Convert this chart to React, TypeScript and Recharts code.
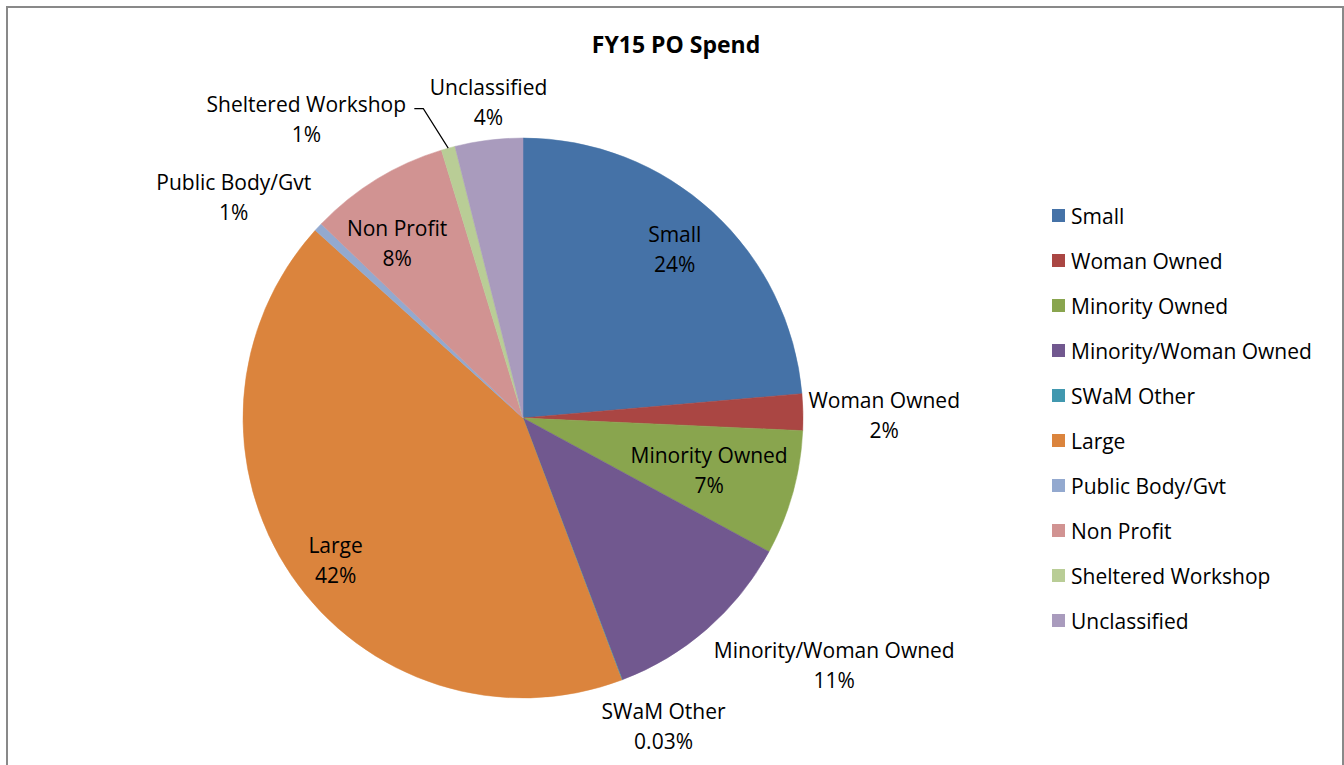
import { PieChart, Pie, Cell, Legend } from 'recharts';

// FY15 PO spend by vendor class (share of total, %)
const categories = [
  'Small',
  'Woman Owned',
  'Minority Owned',
  'Minority/Woman Owned',
  'SWaM Other',
  'Large',
  'Public Body/Gvt',
  'Non Profit',
  'Sheltered Workshop',
  'Unclassified',
];
const spendShare = [23.6, 2.1, 7.2, 11.3, 0.03, 42.4, 0.5, 8.1, 0.8, 3.9];
const sliceColors = [
  '#4572A7',
  '#AA4643',
  '#89A54E',
  '#71588F',
  '#4198AF',
  '#DB843D',
  '#93A9CF',
  '#D19392',
  '#B9CD96',
  '#A99BBD',
];

// where each data label sits: fraction of the radius and angle nudge (deg)
const labelPlacement: Record<string, { r: number; da: number; leader?: boolean }> = {
  'Small': { r: 0.81, da: 0.5 },
  'Woman Owned': { r: 1.29, da: -0.8 },
  'Minority Owned': { r: 0.69, da: 0 },
  'Minority/Woman Owned': { r: 1.42, da: 10.4 },
  'SWaM Other': { r: 1.21, da: 3.8 },
  'Large': { r: 0.84, da: 2.9 },
  'Public Body/Gvt': { r: 1.3, da: 5.6 },
  'Non Profit': { r: 0.77, da: 4.2 },
  'Sheltered Workshop': { r: 1.32, da: 20.4, leader: true },
  'Unclassified': { r: 1.135, da: -0.8 },
};

const FONT = '"Open Sans", Lato, sans-serif';
const RAD = Math.PI / 180;

const chartData = categories.map((name, i) => ({ name, value: spendShare[i] }));

const formatPct = (percent: number) => {
  const p = percent * 100;
  return p < 0.1 ? `${p.toFixed(2)}%` : `${Math.round(p)}%`;
};

const renderLabel = (props: any) => {
  const { cx, cy, midAngle, outerRadius, percent, name } = props;
  const place = labelPlacement[name] || { r: 1.2, da: 0 };
  const a = (midAngle + place.da) * RAD;
  const x = cx + outerRadius * place.r * Math.cos(a);
  const y = cy - outerRadius * place.r * Math.sin(a);

  let leader = null;
  if (place.leader) {
    const textW = name.length * 11;
    const sx = x + textW / 2 + 9;
    const sy = y - 10;
    const ex = cx + outerRadius * Math.cos(midAngle * RAD);
    const ey = cy - outerRadius * Math.sin(midAngle * RAD);
    leader = (
      <polyline
        points={`${sx},${sy} ${sx + 9},${sy} ${ex},${ey}`}
        fill="none"
        stroke="#000"
        strokeWidth={1.2}
      />
    );
  }

  return (
    <g>
      <text
        x={x}
        y={y}
        textAnchor="middle"
        fontFamily={FONT}
        fontSize={21}
        fill="#000"
      >
        <tspan x={x} dy={-7}>{name}</tspan>
        <tspan x={x} dy={30}>{formatPct(percent)}</tspan>
      </text>
      {leader}
    </g>
  );
};

const renderLegend = () => (
  <div style={{ fontFamily: FONT, fontSize: 21, color: '#000' }}>
    {categories.map((name, i) => (
      <div
        key={`leg-${name}`}
        style={{ display: 'flex', alignItems: 'center', height: 45 }}
      >
        <span
          style={{
            display: 'inline-block',
            width: 13,
            height: 13,
            background: sliceColors[i],
            marginRight: 6,
          }}
        />
        <span>{name}</span>
      </div>
    ))}
  </div>
);

const App = () => {
  return (
    <div
      style={{
        position: 'absolute',
        left: 0,
        top: 0,
        width: 1344,
        height: 765,
        overflow: 'hidden',
        background: '#fff',
      }}
    >
      <div
        style={{
          position: 'absolute',
          left: 6,
          top: 6,
          width: 1334,
          height: 800,
          border: '2px solid #898989',
        }}
      />
      <div
        style={{
          position: 'absolute',
          left: 0,
          top: 28,
          width: 1352,
          textAlign: 'center',
          fontFamily: FONT,
          fontWeight: 'bold',
          fontSize: 23,
          color: '#000',
        }}
      >
        FY15 PO Spend
      </div>
      <div style={{ position: 'absolute', left: 0, top: 0 }}>
        <PieChart width={1344} height={765} margin={{ top: 0, right: 0, bottom: 0, left: 0 }}>
          <Pie
            data={chartData}
            dataKey="value"
            nameKey="name"
            cx={523}
            cy={418}
            outerRadius={280}
            startAngle={90}
            endAngle={-270}
            label={renderLabel}
            labelLine={false}
            isAnimationActive={false}
          >
            {chartData.map((d, i) => (
              <Cell key={d.name} fill={sliceColors[i]} stroke={sliceColors[i]} strokeWidth={0.5} />
            ))}
          </Pie>
          <Legend
            layout="vertical"
            content={renderLegend}
            wrapperStyle={{ left: 1052, top: 193, width: 292 }}
          />
        </PieChart>
      </div>
    </div>
  );
};

export default App;
